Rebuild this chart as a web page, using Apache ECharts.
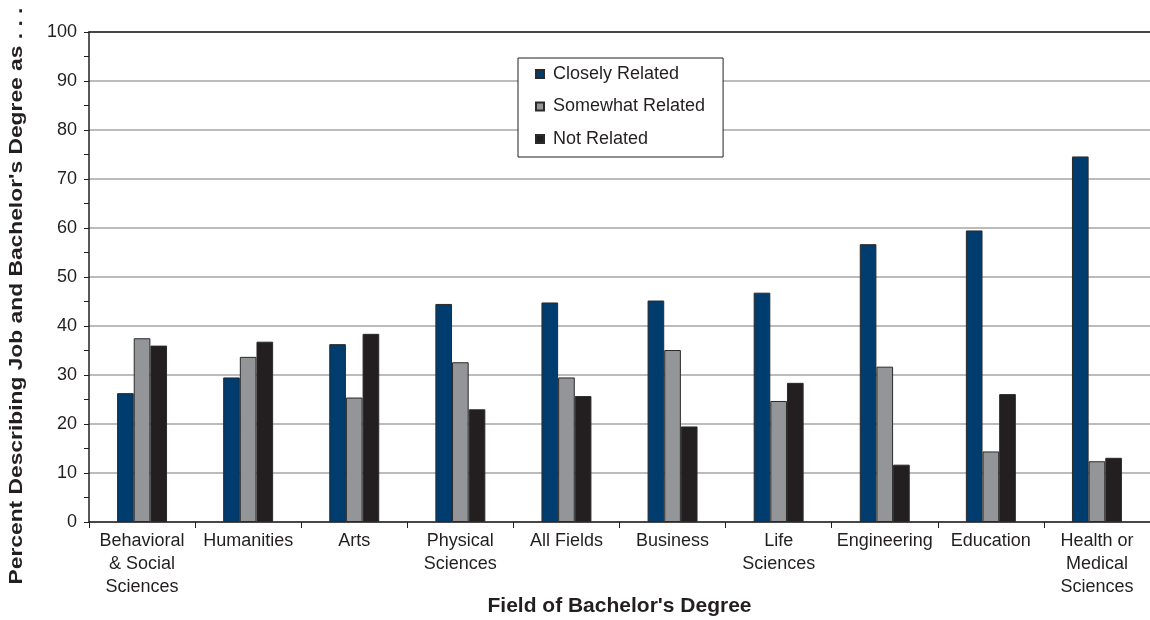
<!DOCTYPE html>
<html><head><meta charset="utf-8">
<script src="https://cdn.jsdelivr.net/npm/echarts@6/dist/echarts.min.js"></script>
<style>html,body{margin:0;padding:0;background:#fff}#c{width:1150px;height:620px}</style>
</head><body><div id="c"></div>
<script>
const categories = ["Behavioral\n& Social\nSciences","Humanities","Arts","Physical\nSciences","All Fields","Business","Life\nSciences","Engineering","Education","Health or\nMedical\nSciences"];
const closelyRelated = [26.3,29.5,36.3,44.5,44.8,45.2,46.8,56.7,59.5,74.6];
const somewhatRelated = [37.5,33.7,25.4,32.6,29.5,35.1,24.7,31.7,14.4,12.4];
const notRelated = [36.0,36.8,38.4,23.0,25.7,19.5,28.4,11.7,26.1,13.1];
const yTicks = [0,10,20,30,40,50,60,70,80,90,100];

const FONT = '"Liberation Sans", Arial, sans-serif';
const chart = echarts.init(document.getElementById('c'));
const barStyle = c => ({color:c, borderColor:'#2a2a2a', borderWidth:1});
chart.setOption({
  animation:false,
  textStyle:{fontFamily:FONT},
  grid:{left:89,right:0,top:32,bottom:98,containLabel:false,outerBoundsMode:'none'},
  legend:{
    orient:'vertical', left:518, top:58,
    backgroundColor:'#fff', borderColor:'#231f20', borderWidth:1,
    padding:[7,18,9,17], itemGap:14.5, itemWidth:8, itemHeight:8,
    icon:'rect',
    textStyle:{fontFamily:FONT,fontSize:18,color:'#231f20',padding:[0,0,0,4]},
    data:['Closely Related','Somewhat Related','Not Related']
  },
  xAxis:[{
    type:'category', data:categories,
    name:"Field of Bachelor's Degree", nameLocation:'middle', nameGap:74, nameMoveOverlap:false,
    nameTextStyle:{fontFamily:FONT,fontSize:21,fontWeight:'bold',color:'#231f20'},
    axisLine:{lineStyle:{color:'#231f20',width:1.5}},
    axisTick:{show:true,length:6,lineStyle:{color:'#231f20'}},
    axisLabel:{fontFamily:FONT,fontSize:18,color:'#231f20',lineHeight:23,margin:8,interval:0}
  },{
    type:'category', data:categories, position:'top',
    axisLine:{lineStyle:{color:'#231f20',width:1.5}},
    axisTick:{show:false}, axisLabel:{show:false}
  }],
  yAxis:{
    type:'value', min:yTicks[0], max:yTicks[yTicks.length-1], interval:10,
    axisLine:{show:true,lineStyle:{color:'#231f20',width:1.5}},
    axisTick:{show:true,length:5,lineStyle:{color:'#231f20'}},
    minorTick:{show:true,splitNumber:2,length:5,lineStyle:{color:'#231f20'}},
    splitLine:{lineStyle:{color:'#a6a6a6',width:1.5}},
    axisLabel:{fontFamily:FONT,fontSize:18,color:'#231f20',margin:12}
  },
  graphic:[{
    type:'text', x:17, y:296, rotation:Math.PI/2, scaleX:1.2,
    style:{text:"Percent Describing Job and Bachelor's Degree as . . .",
      font:'bold 19px "Liberation Sans", Arial, sans-serif', fill:'#231f20',
      textAlign:'center', textVerticalAlign:'middle'}
  }],
  series:[
    {name:'Closely Related',type:'bar',data:closelyRelated,itemStyle:barStyle('#003c6e'),barWidth:'15.7%',barGap:'0%'},
    {name:'Somewhat Related',type:'bar',data:somewhatRelated,itemStyle:barStyle('#939598'),barWidth:'15.7%',barGap:'0%'},
    {name:'Not Related',type:'bar',data:notRelated,itemStyle:barStyle('#231f20'),barWidth:'15.7%',barGap:'0%'}
  ]
});
</script></body></html>
